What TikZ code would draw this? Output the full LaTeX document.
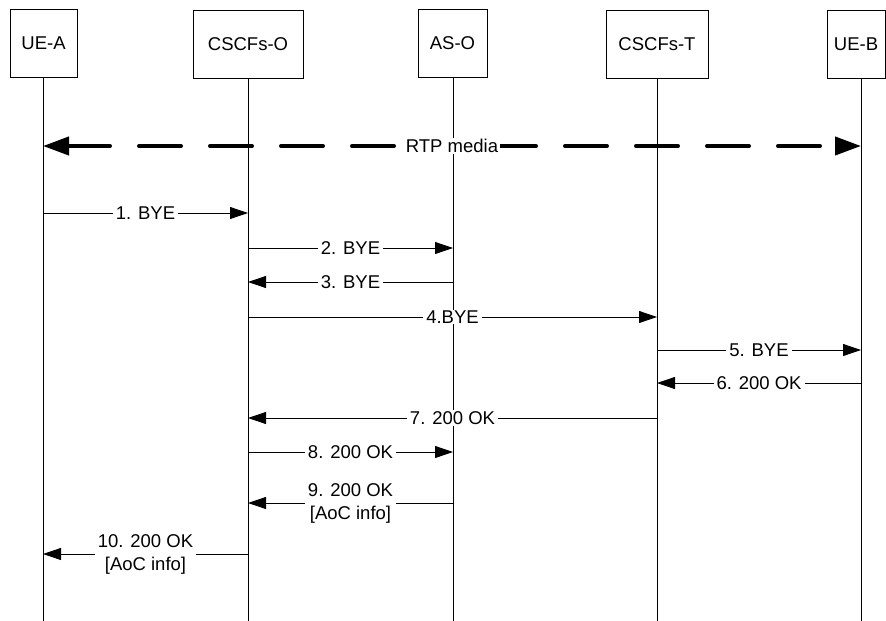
\documentclass[tikz,border=0pt]{standalone}
\usepackage{fontspec}
\setmainfont{Liberation Sans}
\usetikzlibrary{arrows.meta}
\begin{document}
\begin{tikzpicture}[x=1pt,y=-1pt,
  every node/.style={font=\fontsize{18.5}{23}\selectfont},
  entity/.style={draw, line width=0.9pt, minimum height=68pt, inner sep=0pt, anchor=north},
  life/.style={line width=0.9pt},
  msg/.style={line width=0.8pt, -{Triangle[length=18pt,width=12pt]}},
  lbl/.style={fill=white, inner xsep=3pt, inner ysep=1pt, align=center},
  media/.style={line width=4pt, dash pattern=on 42pt off 29pt, line cap=round,
    {Triangle[length=26pt,width=18pt]}-{Triangle[length=26pt,width=18pt]}}]
\useasboundingbox (0,0) rectangle (886,621);
% entities
\node[entity, minimum width=67pt]  (ueA) at (43.5,9)  {UE-A};
\node[entity, minimum width=110pt] (csO) at (248,10)  {CSCFs-O};
\node[entity, minimum width=69pt]  (asO) at (452.5,9) {AS-O};
\node[entity, minimum width=102pt] (csT) at (657,10)  {CSCFs-T};
\node[entity, minimum width=58pt]  (ueB) at (856,10)  {UE-B};
% lifeline ends
\coordinate (ueAb) at (43,621);
\coordinate (csOb) at (248,621);
\coordinate (asOb) at (453,621);
\coordinate (csTb) at (657,621);
\coordinate (ueBb) at (861,621);
% lifelines
\draw[life] (ueA.south -| ueAb) -- (ueAb);
\draw[life] (csO.south -| csOb) -- (csOb);
\draw[life] (asO.south -| asOb) -- (asOb);
\draw[life] (csT.south -| csTb) -- (csTb);
\draw[life] (ueB.south -| ueBb) -- (ueBb);
% media
\draw[media] (ueAb |- 0,146) -- node[lbl, inner xsep=2pt] {RTP media} (ueBb |- 0,146);
% messages
\draw[msg] (ueAb |- 0,213) -- node[lbl] {1. BYE} (csOb |- 0,213);
\draw[msg] (csOb |- 0,248) -- node[lbl] {2. BYE} (asOb |- 0,248);
\draw[msg] (asOb |- 0,282) -- node[lbl] {3. BYE} (csOb |- 0,282);
\draw[msg] (csOb |- 0,317) -- node[lbl] {4.BYE} (csTb |- 0,317);
\draw[msg] (csTb |- 0,350) -- node[lbl] {5. BYE} (ueBb |- 0,350);
\draw[msg] (ueBb |- 0,383) -- node[lbl] {6. 200 OK} (csTb |- 0,383);
\draw[msg] (csTb |- 0,418) -- node[lbl] {7. 200 OK} (csOb |- 0,418);
\draw[msg] (csOb |- 0,452) -- node[lbl] {8. 200 OK} (asOb |- 0,452);
\draw[msg] (asOb |- 0,503) -- node[lbl] {9. 200 OK\\{}[AoC info]} (csOb |- 0,503);
\draw[msg] (csOb |- 0,554) -- node[lbl] {10. 200 OK\\{}[AoC info]} (ueAb |- 0,554);
\end{tikzpicture}
\end{document}
